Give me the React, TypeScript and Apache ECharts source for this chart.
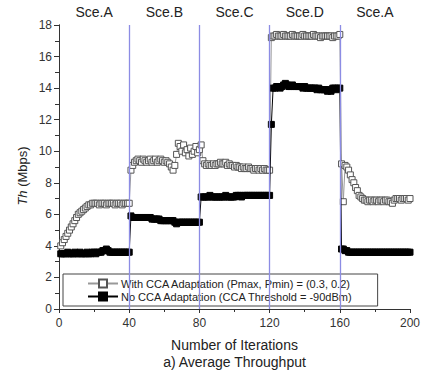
import React, { useEffect, useRef } from "react";
import * as echarts from "echarts";

// Scenario labels (top axis) and boundaries (blue vertical lines)
const scenarioLabels = ["Sce.A", "Sce.B", "Sce.C", "Sce.D", "Sce.A"];
const scenarioBoundaries = [40, 80, 120, 160];

// With CCA Adaptation (Pmax, Pmin) = (0.3, 0.2), iterations 1..200, split per scenario
const withSceA = [4.0, 4.2, 4.4, 4.6, 4.8, 5.0, 5.2, 5.4, 5.6, 5.8, 6.0, 6.1, 6.2, 6.3, 6.4, 6.5, 6.6, 6.6, 6.7, 6.7,
  6.7, 6.7, 6.6, 6.7, 6.7, 6.7, 6.6, 6.7, 6.7, 6.7, 6.7, 6.6, 6.7, 6.7, 6.7, 6.6, 6.7, 6.7, 6.7, 6.7];
const withSceB = [8.8, 9.1, 9.3, 9.4, 9.5, 9.4, 9.3, 9.5, 9.4, 9.3, 9.4, 9.5, 9.3, 9.4, 9.5, 9.3, 9.4, 9.5, 9.4, 9.3,
  9.4, 9.3, 9.2, 9.0, 8.8, 9.1, 9.8, 10.5, 10.3, 10.0, 10.4, 9.9, 10.1, 9.7, 10.2, 9.8, 10.0, 10.3, 9.9, 10.1];
const withSceC = [10.4, 9.4, 9.2, 9.1, 9.2, 9.1, 9.1, 9.2, 9.1, 9.2, 9.2, 9.3, 9.2, 9.2, 9.3, 9.1, 9.2, 9.1, 9.1, 9.0,
  9.1, 9.0, 9.0, 8.9, 9.0, 8.9, 8.9, 9.0, 8.9, 8.9, 8.8, 8.9, 8.9, 8.8, 8.9, 8.8, 8.9, 8.8, 8.8, 8.8];
const withSceD = [17.2, 17.3, 17.3, 17.4, 17.3, 17.3, 17.3, 17.4, 17.3, 17.3, 17.3, 17.3, 17.4, 17.3, 17.3, 17.3, 17.3, 17.3, 17.4, 17.3,
  17.3, 17.3, 17.3, 17.3, 17.4, 17.3, 17.3, 17.3, 17.2, 17.3, 17.3, 17.3, 17.3, 17.3, 17.3, 17.2, 17.3, 17.3, 17.3, 17.4];
const withSceA2 = [9.2, 6.8, 9.1, 9.0, 8.8, 8.5, 8.2, 8.0, 7.7, 7.5, 7.2, 7.1, 7.0, 6.9, 6.9, 6.8, 6.9, 6.9, 6.8, 6.9,
  6.9, 6.8, 6.9, 6.9, 6.8, 6.9, 6.9, 6.8, 6.8, 6.7, 6.9, 7.0, 7.0, 7.0, 6.9, 7.0, 7.0, 7.0, 6.9, 7.0];

// No CCA Adaptation (CCA Threshold = -90dBm)
const noSceA = [3.5, 3.5, 3.5, 3.5, 3.6, 3.5, 3.5, 3.5, 3.6, 3.5, 3.5, 3.6, 3.5, 3.5, 3.5, 3.6, 3.5, 3.5, 3.6, 3.6,
  3.5, 3.6, 3.6, 3.6, 3.7, 3.7, 3.8, 3.7, 3.6, 3.6, 3.6, 3.6, 3.6, 3.6, 3.6, 3.6, 3.6, 3.6, 3.6, 3.6];
const noSceB = [5.9, 5.8, 5.8, 5.8, 5.8, 5.8, 5.8, 5.8, 5.8, 5.8, 5.8, 5.8, 5.7, 5.7, 5.7, 5.7, 5.7, 5.6, 5.6, 5.6,
  5.6, 5.6, 5.6, 5.6, 5.6, 5.5, 5.4, 5.5, 5.5, 5.5, 5.5, 5.5, 5.5, 5.5, 5.5, 5.5, 5.5, 5.5, 5.5, 5.5];
const noSceC = [7.1, 7.1, 7.1, 7.1, 7.1, 7.2, 7.1, 7.1, 7.1, 7.1, 7.1, 7.1, 7.1, 7.1, 7.2, 7.1, 7.1, 7.1, 7.1, 7.1,
  7.2, 7.2, 7.2, 7.1, 7.2, 7.2, 7.2, 7.2, 7.2, 7.2, 7.2, 7.2, 7.2, 7.2, 7.2, 7.2, 7.2, 7.2, 7.2, 7.2];
const noSceD = [11.7, 14.0, 14.0, 14.1, 14.1, 14.0, 14.1, 14.2, 14.3, 14.2, 14.1, 14.1, 14.2, 14.1, 14.1, 14.1, 14.1, 14.1, 14.0, 14.1,
  14.0, 14.0, 14.0, 14.0, 14.0, 14.0, 13.9, 14.0, 13.9, 13.9, 13.9, 13.9, 13.8, 13.9, 13.8, 14.0, 14.0, 13.9, 14.0, 14.0];
const noSceA2 = [3.8, 3.8, 3.7, 3.7, 3.6, 3.6, 3.6, 3.6, 3.6, 3.6, 3.6, 3.6, 3.6, 3.6, 3.6, 3.6, 3.6, 3.6, 3.6, 3.6,
  3.6, 3.6, 3.6, 3.6, 3.6, 3.6, 3.6, 3.6, 3.6, 3.6, 3.6, 3.6, 3.6, 3.6, 3.6, 3.6, 3.6, 3.6, 3.6, 3.6];

const seriesNames = [
  "With CCA Adaptation (Pmax, Pmin) = (0.3, 0.2)",
  "No CCA Adaptation (CCA Threshold = -90dBm)",
];

const withCCA = [...withSceA, ...withSceB, ...withSceC, ...withSceD, ...withSceA2];
const noCCA = [...noSceA, ...noSceB, ...noSceC, ...noSceD, ...noSceA2];

const toPairs = (vals: number[]) => vals.map((v, i) => [i + 1, v]);

const FONT = "Liberation Sans, Arial, sans-serif";

export default function App() {
  const ref = useRef<HTMLDivElement>(null);
  useEffect(() => {
    document.body.style.margin = "0";
    const chart = echarts.init(ref.current!, null, { renderer: "svg" });
    const axisLine = { show: true, lineStyle: { color: "#333", width: 1 } };
    chart.setOption({
      animation: false,
      backgroundColor: "#fff",
      textStyle: { fontFamily: FONT },
      grid: { left: 59, right: 18, top: 25, bottom: 65, containLabel: false },
      xAxis: [
        {
          type: "value", position: "bottom", min: 0, max: 200, interval: 40,
          axisLine, splitLine: { show: false },
          axisTick: { show: true, inside: false, length: 4, lineStyle: { color: "#333" } },
          minorTick: { show: true, splitNumber: 2, length: 3, lineStyle: { color: "#333" } },
          axisLabel: { fontSize: 12, color: "#333", margin: 8, fontFamily: FONT },
        },
        {
          type: "value", position: "top", min: 0, max: 200, interval: 20,
          axisLine, splitLine: { show: false },
          axisTick: { show: true, inside: true, length: 3, lineStyle: { color: "#333" } },
          axisLabel: {
            fontSize: 14, color: "#222", margin: 6, fontFamily: FONT,
            formatter: (v: number) => {
              const i = (v - 20) / 40;
              return Number.isInteger(i) && i >= 0 && i < scenarioLabels.length ? scenarioLabels[i] : "";
            },
          },
        },
      ],
      yAxis: [
        {
          type: "value", position: "left", min: 0, max: 18, interval: 2,
          axisLine, splitLine: { show: false },
          axisTick: { show: true, inside: false, length: 5, lineStyle: { color: "#333" } },
          minorTick: { show: true, splitNumber: 2, length: 3, lineStyle: { color: "#333" } },
          axisLabel: { fontSize: 12, color: "#333", margin: 7, fontFamily: FONT },
        },
        {
          type: "value", position: "right", min: 0, max: 18, interval: 1,
          axisLine, splitLine: { show: false },
          axisTick: { show: true, inside: true, length: 4, lineStyle: { color: "#333" } },
          axisLabel: { show: false },
        },
      ],
      legend: {
        orient: "vertical", left: 63, top: 274,
        padding: [4, 24, 4, 24], itemGap: 2, itemWidth: 30, itemHeight: 10,
        borderColor: "#444", borderWidth: 1, backgroundColor: "#fff",
        textStyle: { fontSize: 11, color: "#222", fontFamily: FONT, padding: [0, 0, 0, -2] },
        data: seriesNames,
      },
      graphic: [
        {
          type: "text", x: 22, y: 176, rotation: Math.PI / 2,
          style: {
            text: "{i|Th} (Mbps)", fontSize: 13, fill: "#222", fontFamily: FONT,
            align: "center", verticalAlign: "middle",
            rich: { i: { fontStyle: "italic", fontSize: 13, fontFamily: FONT, fill: "#222" } },
          },
        },
        {
          type: "text", x: 234.5, y: 345,
          style: { text: "Number of Iterations", fontSize: 14, fill: "#222", fontFamily: FONT, align: "center", verticalAlign: "middle" },
        },
        {
          type: "text", x: 234.5, y: 362,
          style: { text: "a) Average Throughput", fontSize: 14, fill: "#222", fontFamily: FONT, align: "center", verticalAlign: "middle" },
        },
      ],
      series: [
        {
          name: seriesNames[0], type: "line", data: toPairs(withCCA),
          symbol: "rect", symbolSize: 6,
          itemStyle: { color: "#fff", borderColor: "#555", borderWidth: 1 },
          lineStyle: { color: "#999", width: 1 },
          markLine: {
            silent: true, symbol: ["none", "none"], label: { show: false },
            lineStyle: { color: "#8c8ce4", width: 1.3, type: "solid" },
            data: scenarioBoundaries.map((b) => ({ xAxis: b })),
          },
          z: 2,
        },
        {
          name: seriesNames[1], type: "line", data: toPairs(noCCA),
          symbol: "rect", symbolSize: 6,
          itemStyle: { color: "#000", borderColor: "#000", borderWidth: 1 },
          lineStyle: { color: "#000", width: 1 },
          z: 3,
        },
      ],
    });
    return () => chart.dispose();
  }, []);
  return <div ref={ref} style={{ position: "absolute", left: 0, top: 0, width: 428, height: 374 }} />;
}
